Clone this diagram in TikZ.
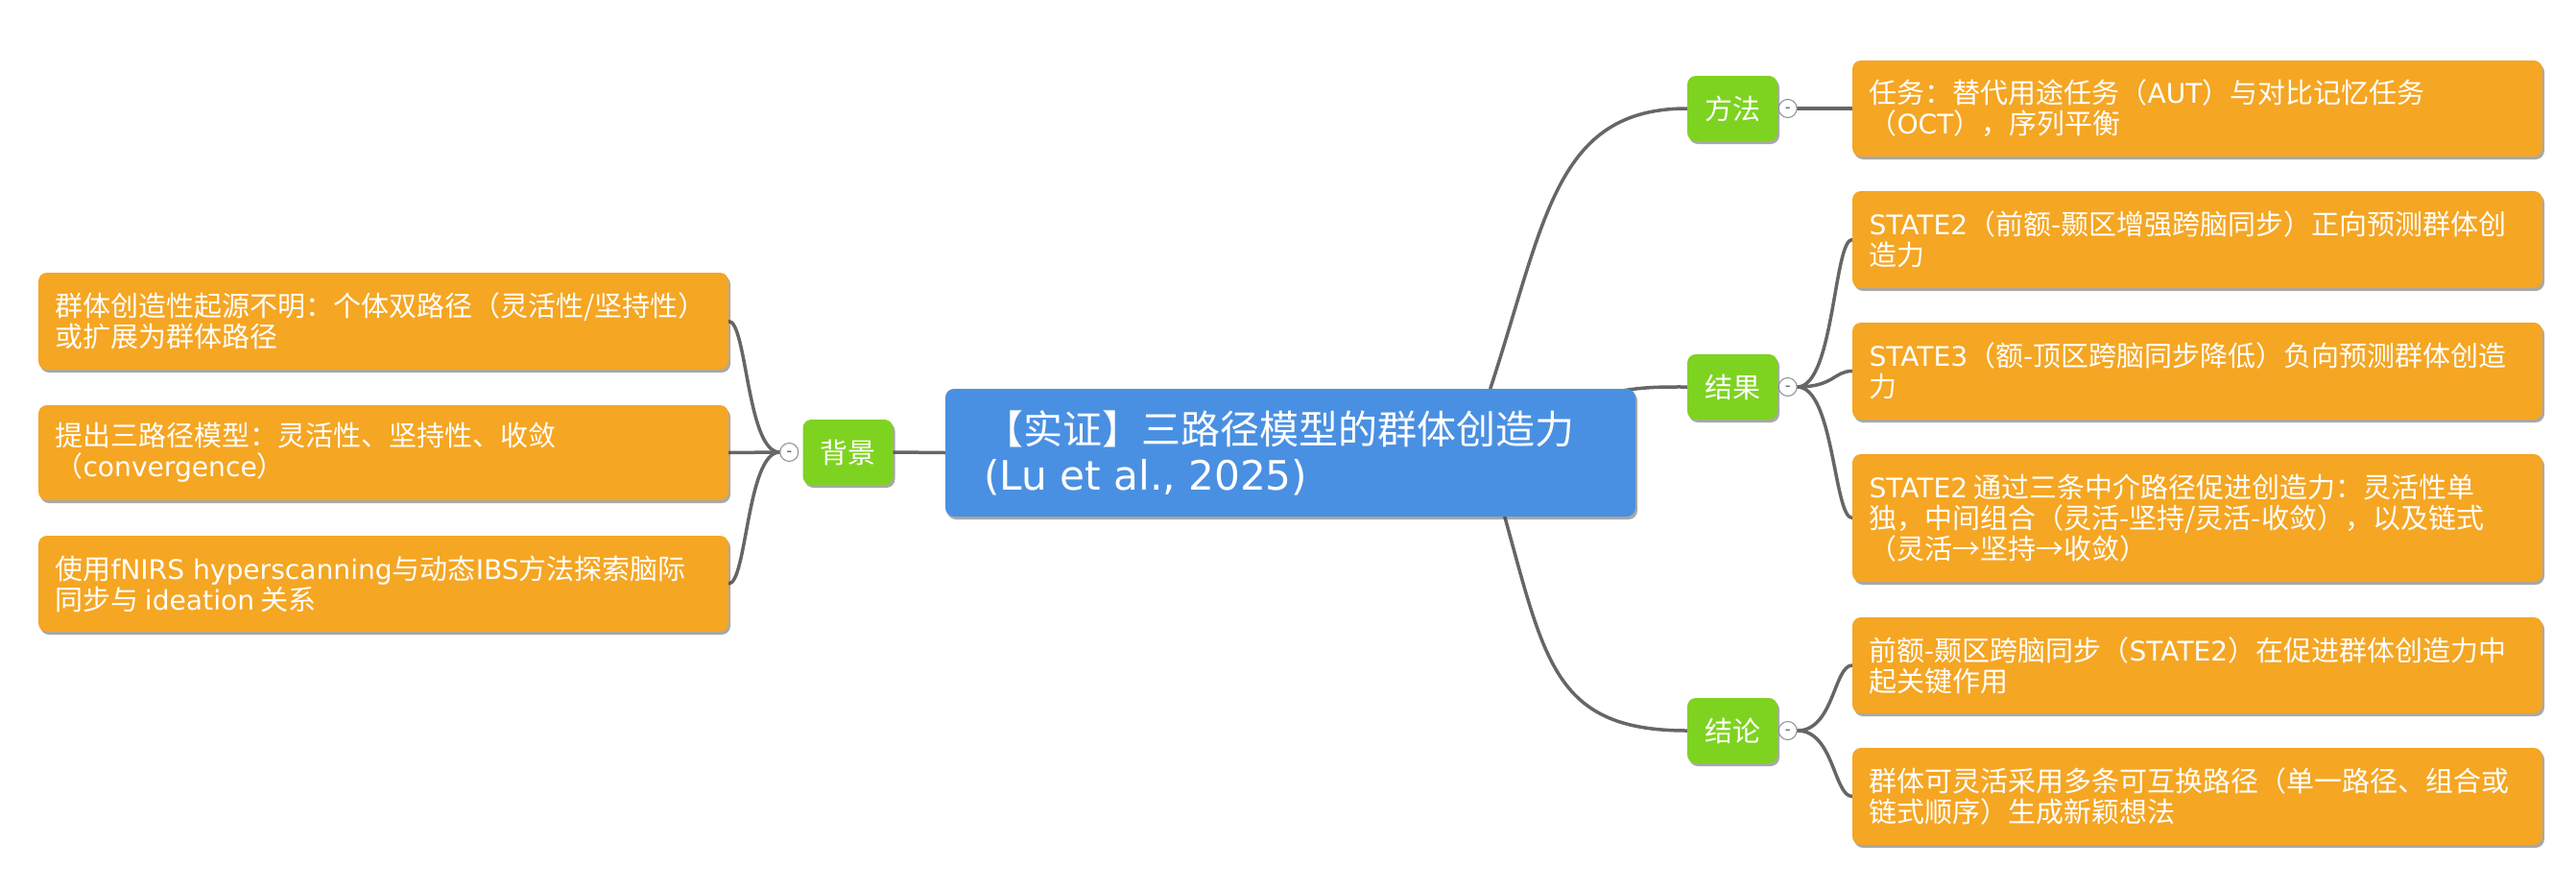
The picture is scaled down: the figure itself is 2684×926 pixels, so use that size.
\documentclass[tikz,border=0pt]{standalone}
\usepackage{fontspec}
\setmainfont{Noto Sans CJK SC}
\newfontfamily\lat{DejaVu Sans}[Scale=0.97]
\newfontfamily\latr{DejaVu Sans}[Scale=1.03]
\usetikzlibrary{calc,shadows,backgrounds}
\definecolor{orangeb}{HTML}{F5A623}
\definecolor{greenb}{HTML}{7ED321}
\definecolor{blueb}{HTML}{4A90E2}
\definecolor{linec}{HTML}{666666}
\definecolor{foldc}{HTML}{4A5566}
\tikzset{
  shad/.style={drop shadow={shadow xshift=2pt, shadow yshift=-3pt, opacity=0.45, fill=black!75}},
  obox/.style={shad, fill=orangeb, rounded corners=9pt, minimum width=719pt, inner sep=0pt},
  gbox/.style={shad, fill=greenb, rounded corners=9pt, minimum width=94pt, minimum height=68pt, inner sep=0pt, text=white, font=\fontsize{29}{32}\selectfont},
  rootbox/.style={shad, fill=blueb, rounded corners=9pt, minimum width=719pt, minimum height=133pt, inner sep=0pt},
  btext/.style={text=white, align=left, anchor=west, inner sep=0pt, font=\fontsize{29}{32}\selectfont},
  roottext/.style={text=white, align=left, anchor=west, inner sep=0pt, font=\fontsize{41}{48}\selectfont},
  conn/.style={draw=linec, line width=3.5pt, line cap=round},
  fold/.style={circle, draw=black!45, fill=white, line width=1pt, minimum size=19pt, inner sep=0pt},
  foldsign/.style={inner sep=0pt, text=foldc, font=\fontsize{17}{17}\selectfont},
}
\begin{document}
\begin{tikzpicture}[x=1pt,y=-1pt]
\useasboundingbox (0,0) rectangle (2684,926);
% root
\node[rootbox] (root) at (1344.5,471.5) {};
\node[roottext] (roott) at ($(root.west)+(40,0)$) {【实证】三路径模型的群体创造力\\{\latr (Lu et al., 2025)}};
% main topics
\node[gbox] (bj) at (883.5,471) {背景};
\node[gbox] (ff) at (1805,113) {方法};
\node[gbox] (jg) at (1805,403) {结果};
\node[gbox] (jl) at (1805,761) {结论};
% left boxes
\node[obox, minimum height=101pt] (l1) at (399.5,334.5) {};
\node[btext] (l1t) at ($(l1.west)+(17.5,0)$) {群体创造性起源不明：个体双路径（灵活性/坚持性）\\或扩展为群体路径};
\node[obox, minimum height=99pt] (l2) at (399.5,471.5) {};
\node[btext] (l2t) at ($(l2.west)+(17.5,0)$) {提出三路径模型：灵活性、坚持性、收敛\\（{\lat convergence}）};
\node[obox, minimum height=100pt] (l3) at (399.5,608) {};
\node[btext] (l3t) at ($(l3.west)+(17.5,0)$) {使用{\lat fNIRS hyperscanning}与动态{\lat IBS}方法探索脑际\\同步与 {\lat ideation} 关系};
% right boxes
\node[obox, minimum height=100pt] (m1) at (2289.5,113) {};
\node[btext] (m1t) at ($(m1.west)+(17.5,0)$) {任务：替代用途任务（{\lat AUT}）与对比记忆任务\\（{\lat OCT}），序列平衡};
\node[obox, minimum height=101pt] (r1) at (2289.5,249.5) {};
\node[btext] (r1t) at ($(r1.west)+(17.5,0)$) {{\lat STATE2}（前额-颞区增强跨脑同步）正向预测群体创\\造力};
\node[obox, minimum height=101pt] (r2) at (2289.5,386.5) {};
\node[btext] (r2t) at ($(r2.west)+(17.5,0)$) {{\lat STATE3}（额-顶区跨脑同步降低）负向预测群体创造\\力};
\node[obox, minimum height=133pt] (r3) at (2289.5,539.5) {};
\node[btext] (r3t) at ($(r3.west)+(17.5,0)$) {{\lat STATE2} 通过三条中介路径促进创造力：灵活性单\\独，中间组合（灵活-坚持/灵活-收敛），以及链式\\（灵活→坚持→收敛）};
\node[obox, minimum height=100pt] (c1) at (2289.5,693) {};
\node[btext] (c1t) at ($(c1.west)+(17.5,0)$) {前额-颞区跨脑同步（{\lat STATE2}）在促进群体创造力中\\起关键作用};
\node[obox, minimum height=101pt] (c2) at (2289.5,829.5) {};
\node[btext] (c2t) at ($(c2.west)+(17.5,0)$) {群体可灵活采用多条可互换路径（单一路径、组合或\\链式顺序）生成新颖想法};
% fold markers
\node[fold] (fbj) at ($(bj.west)+(-14,0)$) {};
\node[fold] (fff) at ($(ff.east)+(10.5,0)$) {};
\node[fold] (fjg) at ($(jg.east)+(10.5,0)$) {};
\node[fold] (fjl) at ($(jl.east)+(10.5,0)$) {};
\node[foldsign] (sbj) at ($(fbj.center)+(0,2)$) {-};
\node[foldsign] (sff) at ($(fff.center)+(0,2)$) {-};
\node[foldsign] (sjg) at ($(fjg.center)+(0,2)$) {-};
\node[foldsign] (sjl) at ($(fjl.center)+(0,2)$) {-};
% anchor points on root
\coordinate (rm) at ($(root.north west)+(568,0)$);
\coordinate (rr) at (1620,425);
\coordinate (rc) at ($(root.south west)+(583,0)$);
\begin{pgfonlayer}{background}
\fill[white] (0,0) rectangle (2684,926);
\draw[conn] (root.west) -- (bj.east);
\draw[conn] (rm) .. controls (1610,230) and (1620,113) .. (ff.west);
\draw[conn] (rr) .. controls (1690,402) and (1720,403) .. (jg.west);
\draw[conn] (rc) .. controls (1610,690) and (1620,761) .. (jl.west);
\draw[conn] (fbj.west) .. controls +(-34,0) and +(19,0) .. (l1.east);
\draw[conn] (fbj.west) -- (l2.east);
\draw[conn] (fbj.west) .. controls +(-34,0) and +(19,0) .. (l3.east);
\draw[conn] (fff.east) -- (m1.west);
\draw[conn] (fjg.east) .. controls +(38,0) and +(-19,0) .. (r1.west);
\draw[conn] (fjg.east) .. controls +(38,0) and +(-19,0) .. (r2.west);
\draw[conn] (fjg.east) .. controls +(38,0) and +(-19,0) .. (r3.west);
\draw[conn] (fjl.east) .. controls +(38,0) and +(-19,0) .. (c1.west);
\draw[conn] (fjl.east) .. controls +(38,0) and +(-19,0) .. (c2.west);
\end{pgfonlayer}
\end{tikzpicture}
\end{document}
